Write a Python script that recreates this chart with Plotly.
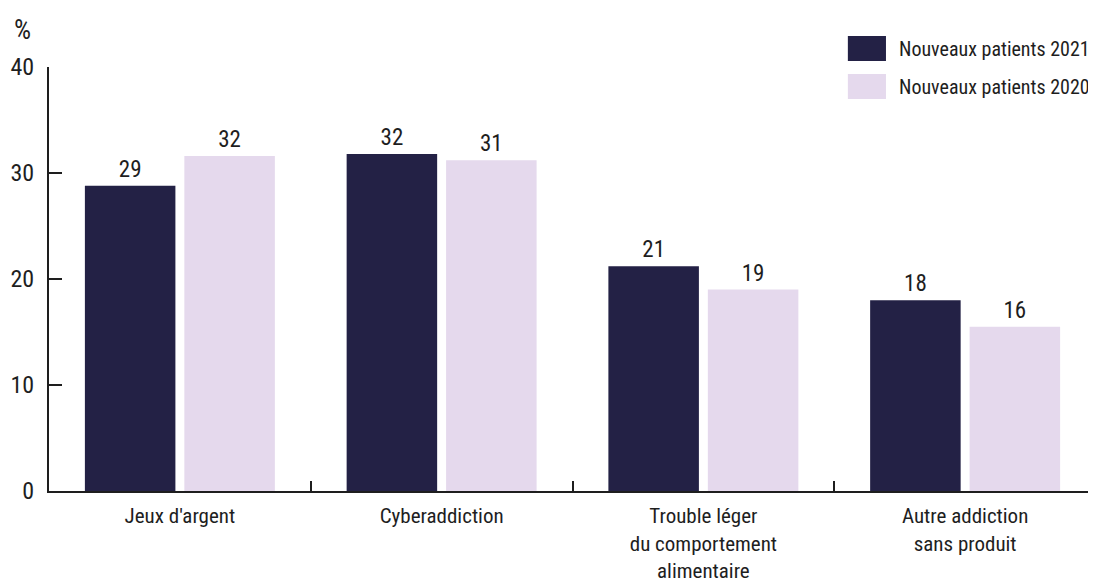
import plotly.graph_objects as go

categories = ["Jeux d'argent", "Cyberaddiction", "Trouble léger<br>du comportement<br>alimentaire", "Autre addiction<br>sans produit"]
series_names = ["Nouveaux patients 2021", "Nouveaux patients 2020"]
values_2021 = [28.8, 31.8, 21.2, 18.0]
values_2020 = [31.6, 31.2, 19.0, 15.5]
labels_2021 = ["29", "32", "21", "18"]
labels_2020 = ["32", "31", "19", "16"]
y_ticks = [0, 10, 20, 30, 40]

DARK = "#232145"
LIGHT = "#e5d9ed"
FONT = "Roboto Condensed, Roboto, sans-serif"
TXT = "#1e1e1e"

fig = go.Figure()
for name, vals, labs, col in [(series_names[0], values_2021, labels_2021, DARK),
                              (series_names[1], values_2020, labels_2020, LIGHT)]:
    fig.add_trace(go.Bar(
        x=categories, y=vals, name=name, marker_color=col, marker_line_width=0,
        text=labs, textposition="outside", cliponaxis=False,
        textfont=dict(family=FONT, size=23, color=TXT),
        showlegend=False,
    ))

fig.update_layout(
    width=1088, height=575,
    margin=dict(l=41, r=0, t=59, b=92),
    paper_bgcolor="white", plot_bgcolor="white",
    barmode="group", bargap=0.24, bargroupgap=0.09,
    font=dict(family=FONT, size=22, color=TXT),
    xaxis=dict(
        type="category", showgrid=False, showline=True, linecolor=TXT, linewidth=2,
        ticks="inside", tickson="boundaries", ticklen=10, tickwidth=1.5, tickcolor=TXT,
        tickfont=dict(family=FONT, size=21, color=TXT), ticklabelstandoff=5,
        automargin=False,
    ),
    yaxis=dict(
        range=[0, 40], tickvals=y_ticks, showgrid=False, zeroline=False,
        showline=True, linecolor=TXT, linewidth=2,
        ticks="inside", ticklen=13, tickwidth=2, tickcolor=TXT,
        tickfont=dict(family=FONT, size=24, color=TXT), ticklabelstandoff=8,
        automargin=False,
    ),
)

# y-axis unit
fig.add_annotation(text="%", xref="paper", yref="paper", x=-0.035, y=1.087,
                   xanchor="left", yanchor="middle", showarrow=False,
                   font=dict(family=FONT, size=27, color=TXT))

# custom legend
sw_top = [1.0731, 0.9835]
sw_bot = [1.0142, 0.9245]
txt_y = [1.0436, 0.954]
for name, col, t, b, ty in zip(series_names, [DARK, LIGHT], sw_top, sw_bot, txt_y):
    fig.add_shape(type="rect", xref="paper", yref="paper",
                  x0=0.763, x1=0.7994, y0=b, y1=t,
                  fillcolor=col, line_width=0)
    fig.add_annotation(text=name, xref="paper", yref="paper", x=0.810, y=ty,
                       xanchor="left", yanchor="middle", showarrow=False,
                       font=dict(family=FONT, size=20, color=TXT))

fig.write_html("out.html")
